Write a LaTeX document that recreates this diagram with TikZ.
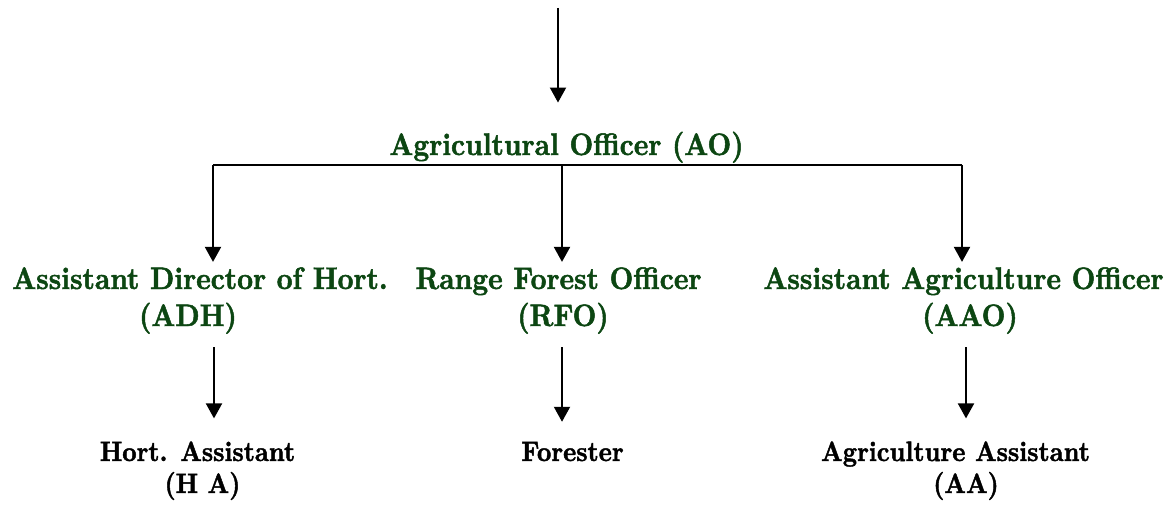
\documentclass[tikz,border=0pt]{standalone}
\usepackage{fontspec}
\setmainfont{lmroman10}[Extension=.otf,UprightFont=*-regular,BoldFont=*-bold,FakeStretch=0.89,BoldFeatures={FakeBold=1.6}]
\usetikzlibrary{arrows.meta}
\definecolor{officegreen}{RGB}{12,70,18}
\tikzset{
  arr/.style={line width=2pt, -{Triangle[width=16pt,length=15pt]}},
  bus/.style={line width=2pt},
  rank/.style={inner sep=0pt, anchor=base, text=officegreen,
    font=\bfseries\fontsize{31}{37}\selectfont},
  staff/.style={inner sep=0pt, anchor=base, text=black,
    font=\bfseries\fontsize{28}{32}\selectfont}
}
\setlength{\tabcolsep}{0pt}
\begin{document}
\begin{tikzpicture}[x=1pt,y=-1pt]
\useasboundingbox (0,0) rectangle (1170,505);

% head office
\node[rank] (ao) at (566.5,155) {Agricultural Officer (AO)};

% second tier
\node[rank] (adh) at (200,289) {\begin{tabular}[t]{c}Assistant Director of Hort.\\(ADH)\hspace*{24pt}\end{tabular}};
\node[rank] (rfo) at (558.5,289) {\begin{tabular}[t]{c}Range Forest Officer\\\hspace*{9pt}(RFO)\end{tabular}};
\node[rank] (aao) at (963.5,289) {\begin{tabular}[t]{c}Assistant Agriculture Officer\\\hspace*{13pt}(AAO)\end{tabular}};

% field staff
\node[staff] (ha) at (197.5,461) {\begin{tabular}[t]{c}Hort. Assistant\\\hspace*{10pt}(H A)\end{tabular}};
\node[staff] (fr) at (572.5,461) {Forester};
\node[staff] (aa) at (955.5,461) {\begin{tabular}[t]{c}Agriculture Assistant\\\hspace*{21pt}(AA)\end{tabular}};

% incoming line
\coordinate (top) at (558,8);
\draw[arr, shorten >=29pt] (top) -- (top |- ao.north);

% distribution bus
\coordinate (bL) at (213,165);
\coordinate (bM) at (562,165);
\coordinate (bR) at (962,165);
\draw[bus] (bL) -- (bR);
\draw[arr, shorten >=1pt] (bL) -- (bL |- adh.north);
\draw[arr, shorten >=1pt] (bM) -- (bM |- rfo.north);
\draw[arr, shorten >=1pt] (bR) -- (bR |- aao.north);

% lower links
\coordinate (cL) at (214,347);
\coordinate (cM) at (562,347);
\coordinate (cR) at (966,347);
\draw[arr, shorten >=20pt] (cL) -- (cL |- ha.north);
\draw[arr, shorten >=20pt] (cM) -- (cM |- fr.north);
\draw[arr, shorten >=20pt] (cR) -- (cR |- aa.north);
\end{tikzpicture}
\end{document}
